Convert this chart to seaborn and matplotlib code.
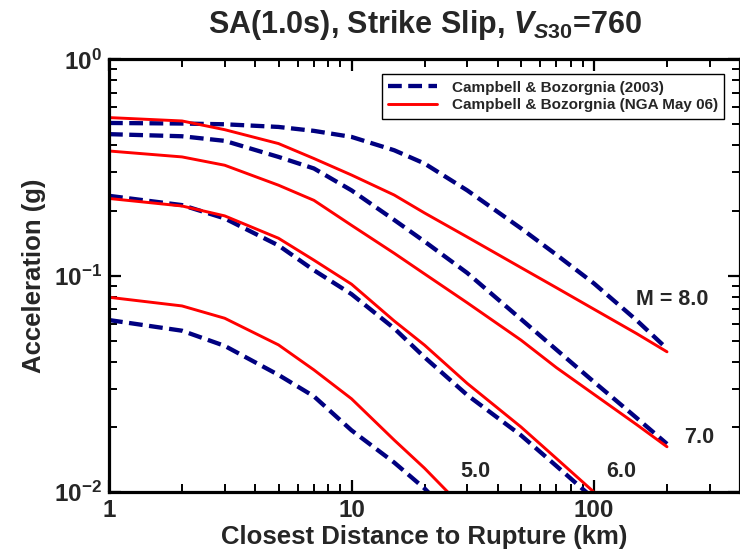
import numpy as np
import pandas as pd
import matplotlib
matplotlib.use("Agg")
import matplotlib.pyplot as plt
from matplotlib.lines import Line2D
from matplotlib.ticker import FixedLocator, LogLocator, NullFormatter
import seaborn as sns

# Distances (km) at which the median spectral accelerations are tabulated
dist = [1, 2, 3, 5, 7, 10, 15, 20, 30, 50, 70, 100, 150, 200]

# Campbell & Bozorgnia (2003), SA(1.0s) in g
cb03_m8 = [0.508, 0.505, 0.501, 0.487, 0.467, 0.438, 0.380, 0.330, 0.248, 0.1655, 0.125, 0.0921, 0.0622, 0.046]
cb03_m7 = [0.451, 0.441, 0.420, 0.354, 0.313, 0.248, 0.181, 0.144, 0.103, 0.063, 0.0455, 0.0323, 0.0220, 0.0167]
cb03_m6 = [0.234, 0.212, 0.184, 0.138, 0.106, 0.0822, 0.0571, 0.0420, 0.0281, 0.0183, 0.0132, 0.0093]
cb03_m5 = [0.0624, 0.0557, 0.0474, 0.0348, 0.0277, 0.0193, 0.0137, 0.0104, 0.0065]

# Campbell & Bozorgnia (NGA May 06), SA(1.0s) in g
nga_m8 = [0.538, 0.519, 0.473, 0.408, 0.348, 0.292, 0.236, 0.195, 0.151, 0.109, 0.088, 0.070, 0.054, 0.0445]
nga_m7 = [0.377, 0.354, 0.324, 0.262, 0.223, 0.171, 0.127, 0.102, 0.075, 0.0504, 0.0376, 0.0283, 0.0205, 0.0162]
nga_m6 = [0.2275, 0.210, 0.189, 0.149, 0.118, 0.0914, 0.0618, 0.0478, 0.0318, 0.020, 0.0143, 0.010]
nga_m5 = [0.0795, 0.0725, 0.0636, 0.0479, 0.0367, 0.0270, 0.0174, 0.0129, 0.0081]

models = ["Campbell & Bozorgnia (2003)", "Campbell & Bozorgnia (NGA May 06)"]
magnitudes = [8.0, 7.0, 6.0, 5.0]
mag_labels = ["M = 8.0", "7.0", "6.0", "5.0"]

x_ticks = [1, 10, 100]
x_tick_labels = ["1", "10", "100"]
y_ticks = [0.01, 0.1, 1.0]
y_tick_labels = [r"$10^{-2}$", r"$10^{-1}$", r"$10^{0}$"]

series = {
    models[0]: [cb03_m8, cb03_m7, cb03_m6, cb03_m5],
    models[1]: [nga_m8, nga_m7, nga_m6, nga_m5],
}

rows = []
for model, curves in series.items():
    for mag, vals in zip(magnitudes, curves):
        for d, v in zip(dist, vals):
            rows.append({"model": model, "mag": mag, "dist": d, "sa": v})
df = pd.DataFrame(rows)

sns.set_style("ticks")
plt.rcParams["font.family"] = ["Liberation Sans", "DejaVu Sans"]
plt.rcParams["font.weight"] = "bold"
plt.rcParams["mathtext.fontset"] = "custom"
plt.rcParams["mathtext.rm"] = "Liberation Sans:bold"
plt.rcParams["mathtext.it"] = "Liberation Sans:bold:italic"
plt.rcParams["mathtext.bf"] = "Liberation Sans:bold"

fig = plt.figure(figsize=(7.4, 5.57), dpi=100)
ax = fig.add_axes([0.1473, 0.1165, 0.8527, 0.777])

styles = {
    models[0]: dict(color="#000080", linewidth=3.1, linestyle=(0, (3.2, 1.5))),
    models[1]: dict(color="#ff0000", linewidth=2.1, linestyle="-"),
}

for model in models:
    sub = df[df["model"] == model]
    sns.lineplot(data=sub, x="dist", y="sa", units="mag", estimator=None,
                 sort=False, ax=ax, legend=False, **styles[model])

ax.set_xscale("log")
ax.set_yscale("log")
ax.set_xlim(1, 400)
ax.set_ylim(0.01, 1.0)

ax.xaxis.set_major_locator(FixedLocator(x_ticks))
ax.set_xticklabels(x_tick_labels)
ax.yaxis.set_major_locator(FixedLocator(y_ticks))
ax.set_yticklabels(y_tick_labels)
ax.xaxis.set_minor_locator(LogLocator(base=10, subs=np.arange(2, 10), numticks=20))
ax.yaxis.set_minor_locator(LogLocator(base=10, subs=np.arange(2, 10), numticks=20))
ax.xaxis.set_minor_formatter(NullFormatter())
ax.yaxis.set_minor_formatter(NullFormatter())

ax.tick_params(which="both", direction="in", top=True, right=True, color="black")
ax.tick_params(which="major", length=8.5, width=1.6, labelsize=17.5, pad=5)
ax.tick_params(which="minor", length=6, width=1.4)
for lab in ax.get_xticklabels() + ax.get_yticklabels():
    lab.set_fontweight("bold")

for sp in ax.spines.values():
    sp.set_linewidth(2.3)
    sp.set_color("black")

ax.set_xlabel("Closest Distance to Rupture (km)", fontsize=18.5, fontweight="bold", labelpad=2)
ax.set_ylabel("Acceleration (g)", fontsize=18.5, fontweight="bold", labelpad=6)
ax.set_title(r"SA(1.0s), Strike Slip, $V_{S30}$=760", fontsize=22, fontweight="bold", pad=19)

# Magnitude annotations next to the curve ends
label_pos = [(211, 0.0773), (271, 0.0179), (129, 0.0124), (32.5, 0.0124)]
for text, (lx, ly) in zip(mag_labels, label_pos):
    ax.text(lx, ly, text, fontsize=15.5, fontweight="bold", ha="center", va="center")

handles = [Line2D([], [], **styles[m]) for m in models]
leg = ax.legend(handles, models, loc="upper right", bbox_to_anchor=(0.975, 0.965),
                borderaxespad=0, frameon=True, fancybox=False, framealpha=1,
                edgecolor="black", prop={"size": 11, "weight": "bold"},
                handlelength=3.2, borderpad=0.4, labelspacing=0.25, handletextpad=1.0)
leg.get_frame().set_linewidth(1.0)

fig.savefig("out.png", dpi=100)
